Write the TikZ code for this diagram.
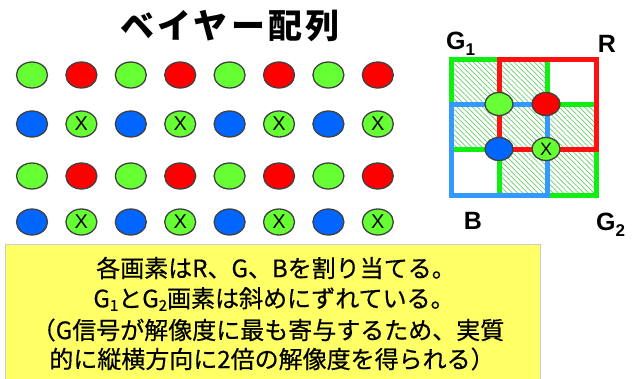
\documentclass[tikz,border=0pt]{standalone}
\usepackage{fontspec}
\setmainfont{Liberation Sans}
\newfontfamily\jp{Noto Sans CJK JP}[FakeBold=0.5]
\newfontfamily\jpt{Noto Sans CJK JP}[LetterSpace=10]
\usetikzlibrary{shapes.geometric,patterns.meta}
\definecolor{dgreen}{HTML}{66FF33}
\definecolor{dred}{HTML}{FF0000}
\definecolor{dblue}{HTML}{0066FF}
\definecolor{lgreen}{HTML}{11EE11}
\definecolor{lred}{HTML}{FF1111}
\definecolor{lblue}{HTML}{3399FF}
\definecolor{hatch}{HTML}{66CC66}
\definecolor{yel}{HTML}{FFFF66}
\newcommand{\lsub}[1]{\raisebox{-6pt}{\fontsize{17}{17}\selectfont #1}}
\newcommand{\tsub}[1]{\raisebox{-3.5pt}{\fontsize{15}{15}\selectfont #1}}
\begin{document}
\begin{tikzpicture}[x=1pt,y=-1pt,
  dot/.style={ellipse, draw=black!75, line width=1.3pt, minimum width=31pt, minimum height=26pt, inner sep=0pt, font=\fontsize{20}{20}\selectfont},
  sdot/.style={dot, minimum width=28pt, minimum height=23pt, font=\fontsize{18}{18}\selectfont},
  gdot/.style={fill=dgreen}, rdot/.style={fill=dred}, bdot/.style={fill=dblue},
  gridline/.style={line width=5pt, line cap=rect},
  hatched/.style={pattern={Lines[angle=-45,distance=3.6pt,line width=0.7pt]}, pattern color=hatch},
  lbl/.style={font=\bfseries\fontsize{25}{25}\selectfont, inner sep=0pt},
  boxtxt/.style={font=\jp\fontsize{24}{24}\selectfont, inner sep=0pt}]
\useasboundingbox (0,0) rectangle (636,378);
% title
\node[font=\jpt\bfseries\fontsize{34}{34}\selectfont, inner sep=0pt] (title) at (230,26) {ベイヤー配列};
% bayer dots
\foreach \i in {0,...,7}{
  \pgfmathsetmacro{\xx}{32+49.4*\i}
  \pgfmathparse{mod(\i,2)==0 ? 1 : 0}
  \ifnum\pgfmathresult=1
    \node[dot,gdot] (a\i) at (\xx,75) {};
    \node[dot,bdot] (b\i) at (\xx,124) {};
    \node[dot,gdot] (c\i) at (\xx,176) {};
    \node[dot,bdot] (d\i) at (\xx,222) {};
  \else
    \node[dot,rdot] (a\i) at (\xx,75) {};
    \node[dot,gdot] (b\i) at (\xx,124) {X};
    \node[dot,rdot] (c\i) at (\xx,176) {};
    \node[dot,gdot] (d\i) at (\xx,222) {X};
  \fi
}
% right grid hatching
\fill[hatched] (451,59) rectangle (547,104);
\fill[hatched] (451,104) rectangle (596,149);
\fill[hatched] (499,149) rectangle (596,195);
% squares: G2, G1, R, B
\draw[gridline, lgreen] (499,104) rectangle (596,195);
\draw[gridline, lgreen] (451,59) rectangle (547,149);
\draw[gridline, lred] (499,59) rectangle (596,149);
\draw[gridline, lblue] (451,104) rectangle (547,195);
% grid dots
\node[sdot,gdot] (g1) at (499,104) {};
\node[sdot,rdot] (r1) at (546,104) {};
\node[sdot,bdot] (b1) at (499,149) {};
\node[sdot,gdot] (g2) at (546,149) {X};
% labels
\node[lbl, anchor=west] (lg1) at (446,44) {G\lsub{1}};
\node[lbl] (lr) at (607,44) {R};
\node[lbl] (lb) at (473,221) {B};
\node[lbl, anchor=west] (lg2) at (596,225) {G\lsub{2}};
% yellow box
\draw[fill=yel, draw=black!20, line width=0.8pt] (5,244) rectangle (540,382);
\node[boxtxt] (t1) at (276,268) {各画素はR、G、Bを割り当てる。};
\node[boxtxt] (t2) at (274,299) {G\tsub{1}とG\tsub{2}画素は斜めにずれている。};
\node[boxtxt] (t3) at (268,330) {（G信号が解像度に最も寄与するため、実質};
\node[boxtxt] (t4) at (272,359) {的に縦横方向に2倍の解像度を得られる）};
\end{tikzpicture}
\end{document}
